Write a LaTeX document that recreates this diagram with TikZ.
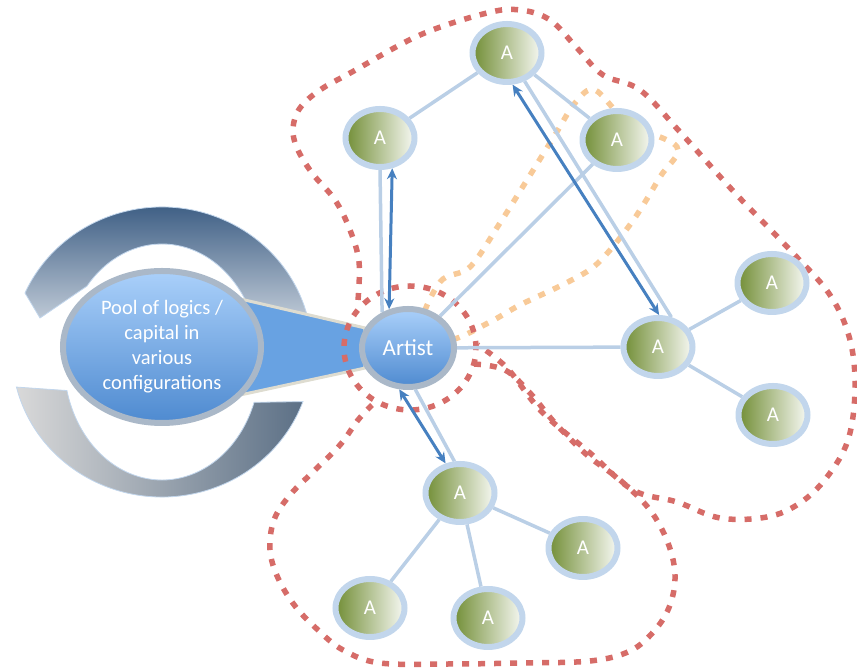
\documentclass[tikz,border=0pt]{standalone}
\usepackage{fontspec}
\setmainfont{Carlito}
\usepackage{tikz}
\usetikzlibrary{arrows.meta, shapes.geometric}

\definecolor{linkblue}{RGB}{186,207,230}
\definecolor{arrowblue}{RGB}{70,128,192}
\definecolor{halo}{RGB}{194,214,236}
\definecolor{agreen}{RGB}{114,142,54}
\definecolor{bluelight}{RGB}{170,208,250}
\definecolor{bluedark}{RGB}{78,138,208}
\definecolor{ringgray}{RGB}{170,184,200}
\definecolor{wedgeblue}{RGB}{104,162,226}
\definecolor{wedgeedge}{RGB}{222,220,208}
\definecolor{dotred}{RGB}{214,108,104}
\definecolor{dotorange}{RGB}{248,202,152}
\definecolor{navy}{RGB}{42,78,120}
\definecolor{slate}{RGB}{92,112,134}

\pgfdeclarelayer{back}
\pgfsetlayers{back,main}

\begin{document}
\begin{tikzpicture}[x=1pt, y=1pt,
    anode/.style={ellipse, draw=halo, line width=6pt, left color=agreen, right color=agreen!6, minimum width=69pt, minimum height=58pt, text=white, font=\fontsize{21}{21}\selectfont},
    bluenode/.style={ellipse, draw=ringgray, line width=6pt, top color=bluelight, bottom color=bluedark, text=white, align=center},
    link/.style={draw=linkblue, line width=3.5pt},
    dual/.style={{Stealth[length=11pt,width=10pt]}-{Stealth[length=11pt,width=10pt]}, draw=arrowblue, line width=3pt},
    reddots/.style={draw=dotred, line width=5.5pt, dash pattern=on 7pt off 9pt},
    orangedots/.style={draw=dotorange, line width=5.5pt, dash pattern=on 7pt off 9pt}]
    \useasboundingbox (0,0) rectangle (857,668);

    \node[bluenode, minimum width=198pt, minimum height=152pt, font=\fontsize{20.5}{25}\selectfont] (pool) at (162,321) {Pool of logics /\\ capital in\\ various\\ configurations};
    \node[bluenode, minimum width=92pt, minimum height=78pt, font=\fontsize{23}{23}\selectfont] (artist) at (408,320) {Artist};

    % actors
    \node[anode] (a1) at (507,615) {A};
    \node[anode] (a2) at (380,530) {A};
    \node[anode] (a3) at (617,528) {A};
    \node[anode] (a4) at (658,321) {A};
    \node[anode] (a5) at (772,385) {A};
    \node[anode] (a6) at (773,253) {A};
    \node[anode] (a7) at (460,175) {A};
    \node[anode] (a8) at (583,120) {A};
    \node[anode] (a9) at (370,60) {A};
    \node[anode] (a10) at (488,50) {A};

    \begin{pgfonlayer}{back}
    % circular arrows round the pool
    \shadedraw[draw=halo, line width=0.8pt, top color=navy, bottom color=navy!4] (162,316) ++(156:150 and 145) arc[start angle=156, end angle=-3, x radius=150, y radius=145] -- ([shift={(-3:98 and 118)}]162,306) arc[start angle=-3, end angle=140, x radius=98, y radius=118] -- (40,350) -- cycle;
    \shadedraw[draw=halo, line width=0.8pt, left color=gray!30, middle color=white, right color=slate] (162,316) ++(194:150 and 145) arc[start angle=194, end angle=340, x radius=150, y radius=145] -- ([shift={(340:98 and 118)}]162,306) arc[start angle=340, end angle=194, x radius=98, y radius=118] -- cycle;

    % callout from pool to artist
    \filldraw[fill=wedgeblue, draw=wedgeedge, line width=3pt] (pool.30) -- (artist.155) -- (artist.205) -- (pool.-30) -- cycle;

    % groupings
    \draw[orangedots] plot[smooth cycle, tension=0.55] coordinates {(420,338) (440,386) (470,401) (500,445) (527,488) (555,533) (575,565) (595,578) (628,545) (677,521) (660,491) (632,446) (598,405) (568,386) (520,363) (490,346) (450,328)};
    \draw[reddots] (410,320) ellipse[x radius=66, y radius=62];
    \draw[reddots] plot[smooth, tension=0.6] coordinates {(358,368) (359,406) (350,438) (335,468) (312,495) (297,520) (293,540) (300,560) (320,578) (352,596) (420,633) (487,655) (520,658) (550,648) (577,620) (603,593) (640,578) (680,536) (735,475) (790,418) (830,373) (850,328) (855,278) (848,228) (827,191) (800,165) (767,151) (720,150) (677,166) (633,178) (590,215) (542,256) (507,300) (478,323)};
    \draw[reddots] plot[smooth, tension=0.6] coordinates {(474,304) (505,298) (530,275) (555,245) (587,213) (620,188) (650,158) (668,125) (675,93) (670,63) (655,38) (630,17) (590,7) (520,5) (450,4) (380,5) (343,18) (318,38) (295,62) (278,90) (270,118) (274,148) (290,173) (315,198) (340,223) (358,248) (372,263)};

    % links
    \draw[link] (a2.270) -- (artist.126);
    \draw[link] (a2) -- (a1);
    \draw[link] (a1) -- (a3);
    \draw[link] (artist) -- (a3);
    \draw[link] (a1.302) -- (a4.66);
    \draw[link] (artist) -- (a4);
    \draw[link] (a4) -- (a5);
    \draw[link] (a4) -- (a6);
    \draw[link] (artist.280) -- (a7.100);
    \draw[link] (a7) -- (a8);
    \draw[link] (a7) -- (a9);
    \draw[link] (a7) -- (a10);

    % two-way exchanges
    \draw[dual] (a2.292) -- (artist.116);
    \draw[dual] (a1.280) -- (a4.88);
    \draw[dual] (artist.258) -- (a7.116);
    \end{pgfonlayer}
\end{tikzpicture}
\end{document}
